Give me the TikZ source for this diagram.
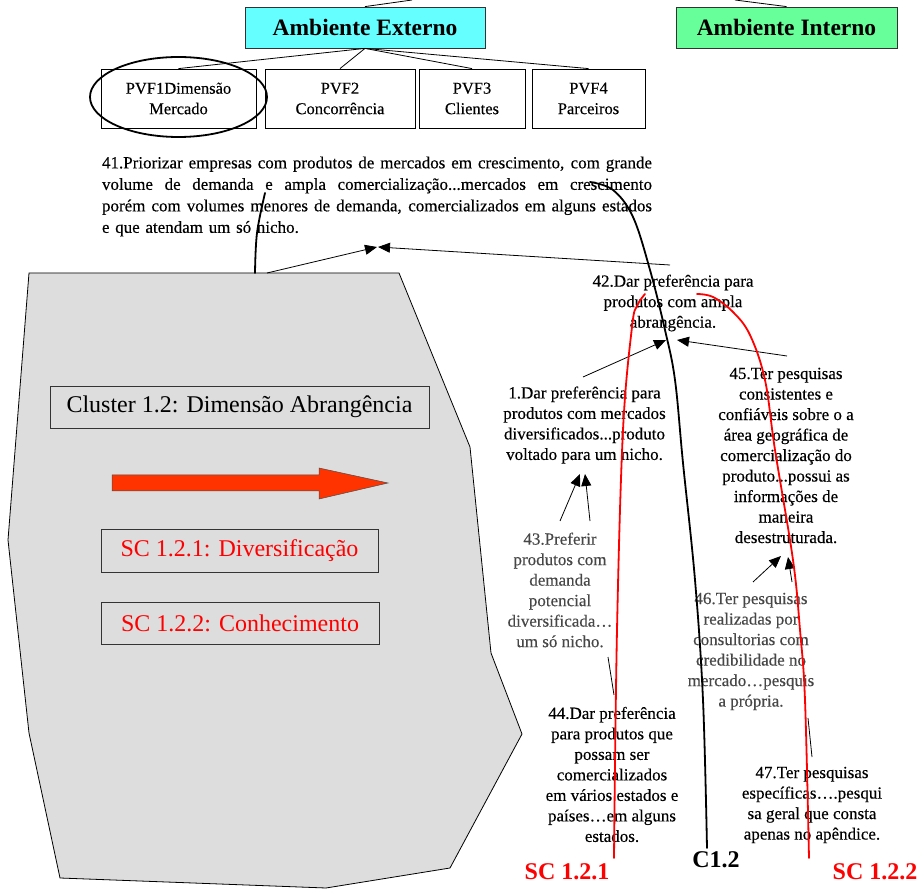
\documentclass[tikz,border=0pt]{standalone}
\usepackage{fontspec}
\setmainfont{Liberation Serif}
\newfontfamily\denseserif{Liberation Serif}[FakeBold=0.3]
\usetikzlibrary{arrows.meta,shapes.geometric}
\definecolor{extcyan}{HTML}{66FFFF}
\definecolor{intgreen}{HTML}{66FF99}
\definecolor{clustergray}{HTML}{DDDDDD}
\definecolor{arrowred}{HTML}{FF3300}
\definecolor{boxedge}{HTML}{333333}
\newcommand{\setfs}[2]{\fontsize{#1}{#2}\selectfont}
% one fully justified line of the wide concept text
\newcommand{\jline}[1]{\makebox[550pt][s]{\spaceskip=0.25em plus 1fil minus 0.05em\relax #1}}

\begin{document}
\begin{tikzpicture}[x=1pt,y=-1pt,
  envbox/.style={draw=boxedge, line width=0.8pt, minimum height=41pt, inner sep=0pt,
    font=\setfs{23.5}{28}\bfseries},
  pvfbox/.style={draw, line width=0.8pt, minimum height=59pt, inner sep=0pt, align=center,
    font=\denseserif\setfs{16.5}{20.5}},
  catbox/.style={draw=boxedge, line width=0.8pt, inner sep=0pt, font=\setfs{24}{28}},
  item/.style={align=center, inner sep=0pt, font=\denseserif\setfs{17}{20.5}},
  fadeditem/.style={item, text=black!72},
  tag/.style={inner sep=0pt, font=\setfs{24}{28}\bfseries},
  link/.style={line width=0.8pt},
  arr/.style={link, -{Triangle[length=12pt,width=10pt]}},
  bound/.style={line width=1.8pt, line cap=round},
]
\fill[white] (0,0) rectangle (919,890);
\useasboundingbox (0,0) rectangle (919,890);

% ---- environment level ----
\node[envbox, fill=extcyan, minimum width=240pt] (ext) at (365,27.5) {Ambiente Externo};
\node[envbox, fill=intgreen, minimum width=221pt] (int) at (786.5,27.5) {Ambiente Interno};
\coordinate (extup) at (412,0);
\coordinate (intup) at (735,0);
\draw[link] (ext.north) -- (extup);
\draw[link] (int.north) -- (intup);

% ---- fundamental points of view ----
\node[pvfbox, minimum width=155pt] (pvf1) at (178.5,98.5) {PVF1Dimensão\\Mercado};
\node[pvfbox, minimum width=150pt] (pvf2) at (340,98.5) {PVF2\\Concorrência};
\node[pvfbox, minimum width=106pt] (pvf3) at (472,98.5) {PVF3\\Clientes};
\node[pvfbox, minimum width=113pt] (pvf4) at (588.5,98.5) {PVF4\\Parceiros};
\foreach \p in {pvf1,pvf2,pvf3,pvf4} \draw[link] (ext.south) -- (\p.north);
\node[draw, ellipse, line width=1.8pt, minimum width=177pt, minimum height=80pt] (ring) at (178.5,97) {};

% ---- cluster region ----
\filldraw[fill=clustergray, draw=black, line width=0.8pt]
  (29,273) -- (399,273) -- (470,447) -- (491,653) -- (522,734) -- (450,868)
  -- (326,888) -- (60,878) -- (29,733) -- (8,540) -- cycle;
\node[catbox, minimum width=379pt, minimum height=42pt] (cluster) at (239.5,407) {Cluster 1.2: Dimensão Abrangência};
\filldraw[fill=arrowred, draw=black!70, line width=0.5pt]
  (112,475) -- (319,475) -- (319,468) -- (388,483) -- (319,499) -- (319,491) -- (112,491) -- cycle;
\node[catbox, minimum width=277pt, minimum height=43pt, text=red] (sc1box) at (239.5,550.5) {SC 1.2.1: Diversificação};
\node[catbox, minimum width=278pt, minimum height=42pt, text=red] (sc2box) at (240,623) {SC 1.2.2: Conhecimento};

% ---- concepts ----
\node[inner sep=0pt, text width=550pt, align=left, font=\denseserif\setfs{17}{21.5}] (c41) at (377,196.5)
  {\jline{41.Priorizar empresas com produtos de mercados em crescimento, com grande}\\
   \jline{volume de demanda e ampla comercialização...mercados em crescimento}\\
   \jline{porém com volumes menores de demanda, comercializados em alguns estados}\\
   e que atendam um só nicho.};
\node[item] (c42) at (673,303) {42.Dar preferência para\\produtos com ampla\\abrangência.};
\node[item] (c1) at (584.5,425) {1.Dar preferência para\\produtos com mercados\\diversificados...produto\\voltado para um nicho.};
\node[item] (c45) at (786,455.5) {45.Ter pesquisas\\consistentes e\\confiáveis sobre o a\\área geográfica de\\comercialização do\\produto...possui as\\informações de\\maneira\\desestruturada.};
\node[fadeditem] (c43) at (560,590) {43.Preferir\\produtos com\\demanda\\potencial\\diversificada…\\um só nicho.};
\node[fadeditem] (c46) at (751,651.5) {46.Ter pesquisas\\realizadas por\\consultorias com\\credibilidade no\\mercado…pesquis\\a própria.};
\node[item] (c44) at (612,774.5) {44.Dar preferência\\para produtos que\\possam ser\\comercializados\\em vários estados e\\países…em alguns\\estados.};
\node[item] (c47) at (812,805) {47.Ter pesquisas\\específicas….pesqui\\sa geral que consta\\apenas no apêndice.};

% ---- connector ends ----
\coordinate (clout) at (267,273);
\coordinate (in41a) at (377,247);
\coordinate (in41b) at (378,247);
\coordinate (out42) at (670,265);
\coordinate (in42a) at (666,340);
\coordinate (in42b) at (677,340);
\coordinate (out1) at (583,377);
\coordinate (out45) at (787,356);
\coordinate (in1a) at (580,474);
\coordinate (in1b) at (585,474);
\coordinate (out43a) at (560,521);
\coordinate (out43b) at (590,521);
\coordinate (in45a) at (781,556);
\coordinate (in45b) at (788,557);
\coordinate (out46a) at (753,582);
\coordinate (out46b) at (792,582);
\coordinate (in43) at (608,657);
\coordinate (out44) at (614,695);
\coordinate (in46) at (808,718);
\coordinate (out47) at (812,757);

\draw[arr] (clout) -- (in41a);
\draw[arr] (out42) -- (in41b);
\draw[arr] (out1) -- (in42a);
\draw[arr] (out45) -- (in42b);
\draw[arr] (out43a) -- (in1a);
\draw[arr] (out43b) -- (in1b);
\draw[arr] (out46a) -- (in45a);
\draw[arr] (out46b) -- (in45b);
\draw[link] (out44) -- (in43);
\draw[link] (out47) -- (in46);

% ---- cluster boundaries ----
\draw[bound] plot[smooth, tension=0.6] coordinates {(255,273) (257,233) (265,193)};
\draw[bound] plot[smooth, tension=0.6] coordinates {(590,182) (613,190) (633,217) (650,270) (665,330) (675,380) (683,463) (695,580) (703,700) (707,848)};
\draw[bound, red] plot[smooth, tension=0.6] coordinates {(645,294) (637,306) (632,327) (623,430) (617,630) (614,858)};
\draw[bound, red] plot[smooth, tension=0.6] coordinates {(697,294) (713,297) (733,312) (750,335) (765,380) (775,450) (793,560) (800,630) (805,700) (809,858)};

\node[tag, text=red] (tag1) at (567,872) {SC 1.2.1};
\node[tag] (tagc) at (716,860) {C1.2};
\node[tag, text=red] (tag2) at (875,872) {SC 1.2.2};
\end{tikzpicture}
\end{document}
